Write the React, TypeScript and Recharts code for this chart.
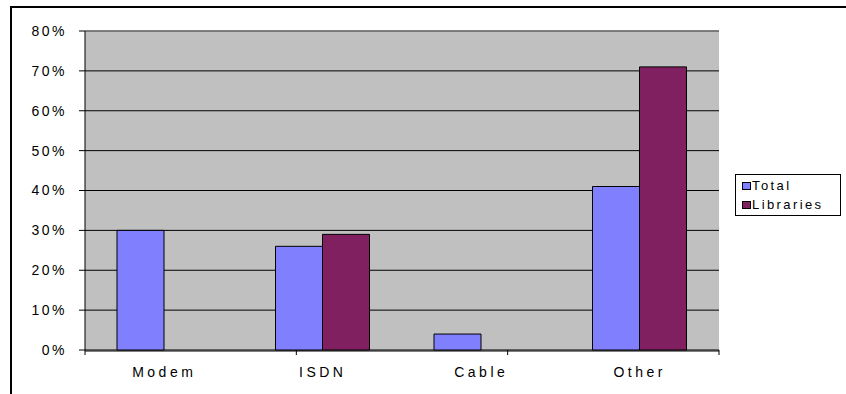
import React from "react"
import { Bar, BarChart, CartesianGrid, Legend, ReferenceLine, XAxis, YAxis } from "recharts"

const categories = ["Modem", "ISDN", "Cable", "Other"]
const totalValues = [30, 26, 4, 41]
const librariesValues: (number | null)[] = [null, 29, null, 71]
const yTicks = [0, 10, 20, 30, 40, 50, 60, 70, 80]
const bandTicks = [0, 1, 2, 3, 4]

const seriesInfo = [
  { key: "total", name: "Total", color: "#8080FF" },
  { key: "libraries", name: "Libraries", color: "#802060" },
]

const data = categories.map((name, i) => ({
  name,
  total: totalValues[i],
  libraries: librariesValues[i],
}))

const font = "Arial, 'Liberation Sans', sans-serif"

function LegendBox() {
  return (
    <div
      style={{
        border: "1px solid #000",
        background: "#fff",
        width: 104,
        height: 39,
        boxSizing: "content-box",
        fontFamily: font,
        fontSize: 13,
        letterSpacing: 2.4,
        color: "#000",
        paddingTop: 1,
      }}
    >
      {seriesInfo.map((s) => (
        <div key={s.key} style={{ display: "flex", alignItems: "center", height: 19, paddingLeft: 6 }}>
          <span
            style={{
              display: "inline-block",
              width: 7,
              height: 6,
              background: s.color,
              border: "1px solid #000",
              marginRight: 1,
            }}
          />
          <span>{s.name}</span>
        </div>
      ))}
    </div>
  )
}

export default function App() {
  return (
    <div style={{ position: "fixed", left: 0, top: 0, width: 846, height: 394, background: "#fff" }}>
      <div
        style={{
          position: "absolute",
          left: 10,
          top: 6,
          width: 900,
          height: 500,
          border: "2px solid #000",
        }}
      />
      <div style={{ position: "absolute", left: 0, top: 0 }}>
        <BarChart
          width={846}
          height={394}
          data={data}
          margin={{ top: 31, right: 127, bottom: 0, left: 0 }}
          barCategoryGap={32}
          barGap={0}
        >
          <CartesianGrid vertical={false} fill="#C0C0C0" stroke="#000" strokeOpacity={1} />
          {/* boundary ticks between categories */}
          <XAxis
            xAxisId={0}
            type="number"
            domain={[0, 4]}
            ticks={bandTicks}
            tickFormatter={() => ""}
            tickSize={5}
            tickLine={{ stroke: "#000" }}
            axisLine={false}
            height={1}
          />
          <XAxis
            xAxisId="cat"
            dataKey="name"
            height={43}
            tickSize={0}
            tickMargin={16}
            axisLine={{ stroke: "#000" }}
            tickLine={false}
            tick={{ fill: "#000", fontSize: 14, fontFamily: font, letterSpacing: 3.5 }}
            interval={0}
          />
          <YAxis
            width={85}
            domain={[0, 80]}
            ticks={yTicks}
            tickFormatter={(v: number) => `${v}%`}
            axisLine={{ stroke: "#000" }}
            tickLine={{ stroke: "#000" }}
            tickSize={6}
            tickMargin={12}
            tick={{ fill: "#000", fontSize: 14, fontFamily: font, letterSpacing: 2.5 }}
            interval={0}
          />
          <ReferenceLine y={80} stroke="#808080" strokeWidth={1.5} />
          <ReferenceLine x={4} stroke="#808080" strokeWidth={1.5} />
          <Legend
            layout="vertical"
            align="center"
            verticalAlign="middle"
            content={() => <LegendBox />}
            wrapperStyle={{ position: "absolute", left: 735, top: 174, width: "auto" }}
          />
          {seriesInfo.map((s) => (
            <Bar
              key={s.key}
              xAxisId="cat"
              dataKey={s.key}
              name={s.name}
              fill={s.color}
              stroke="#000"
              strokeWidth={1}
              isAnimationActive={false}
            />
          ))}
        </BarChart>
      </div>
    </div>
  )
}
